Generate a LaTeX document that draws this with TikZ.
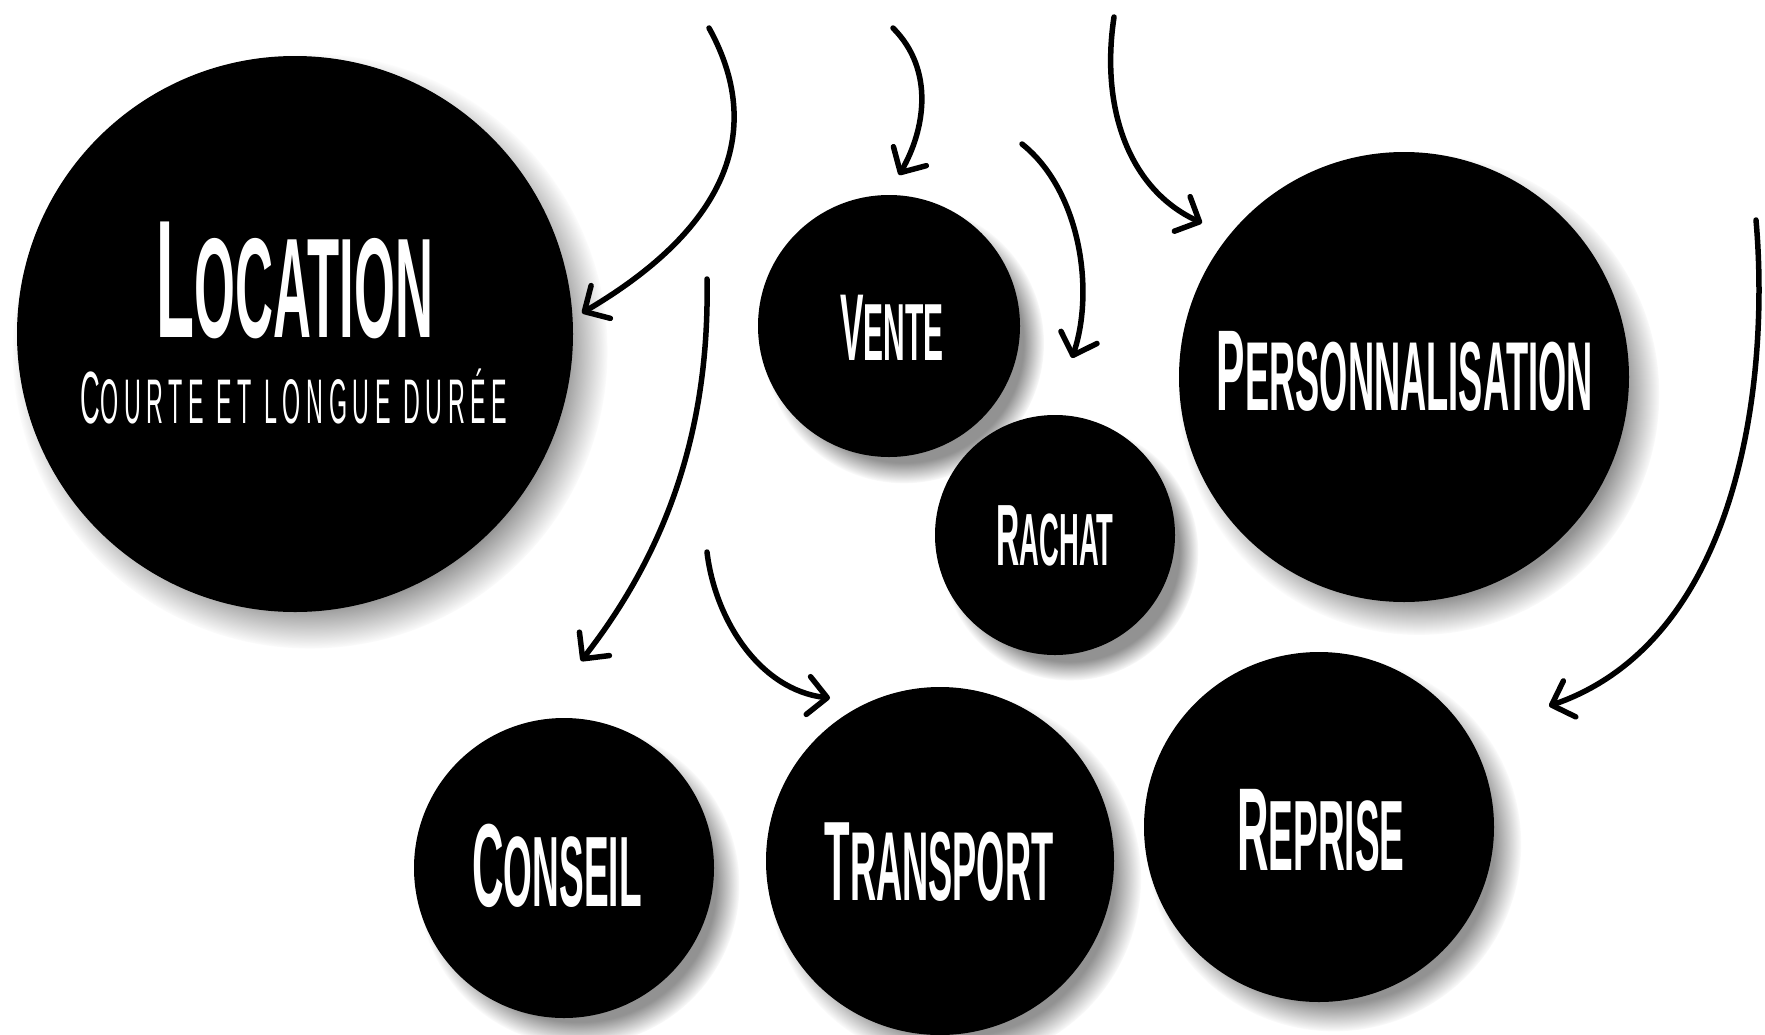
\documentclass[tikz,border=0pt]{standalone}
\usepackage{fontspec}
\usetikzlibrary{shadows,arrows.meta}
\newfontfamily\tfont{Liberation Sans}[FakeStretch=0.37, UprightFont=* Bold]
\newfontfamily\sfontlight{Liberation Sans}[FakeStretch=0.37, LetterSpace=9]
\newcommand\capsc[4]{{\fontsize{#1pt}{#1pt}\selectfont #3}{\fontsize{#2pt}{#2pt}\selectfont #4}}
\begin{document}
\begin{tikzpicture}[x=1pt,y=-1pt,
  ball/.style={circle, fill=black, inner sep=0pt, minimum size=#1,
    circular drop shadow={shadow xshift=14pt, shadow yshift=-16pt, shadow scale=1.07, opacity=.85}},
  lbl/.style={text=white, anchor=base, inner sep=0pt, font=\tfont},
  sublbl/.style={text=white, anchor=base, inner sep=0pt, font=\sfontlight},
  arr/.style={line width=5.5pt, line cap=round, -{Straight Barb[length=19pt,width=38pt,round]}}]
\useasboundingbox (0,0) rectangle (1765,1034);
\clip (0,0) rectangle (1765,1034);
\fill[white] (0,0) rectangle (1765,1034);

% circles
\node[ball=556pt] (location) at (295,334) {};
\node[ball=262pt] (vente) at (889,326) {};
\node[ball=240pt] (rachat) at (1055,535) {};
\node[ball=450pt] (perso) at (1404,377) {};
\node[ball=300pt] (conseil) at (564,868) {};
\node[ball=348pt] (transport) at (940,861) {};
\node[ball=350pt] (reprise) at (1319,827) {};

% labels
\node[lbl] (tloc) at (295,337) {\capsc{168}{142}{L}{OCATION}};
\node[sublbl] (tsub) at (294,423) {\capsc{74}{63}{C}{OURTE ET LONGUE DURÉE}};
\node[lbl] (tvente) at (892,360) {\capsc{95}{81}{V}{ENTE}};
\node[lbl] (trachat) at (1055,565) {\capsc{87}{74}{R}{ACHAT}};
\node[lbl] (tperso) at (1405,410) {\capsc{115}{98}{P}{ERSONNALISATION}};
\node[lbl] (tconseil) at (557,906) {\capsc{118}{100}{C}{ONSEIL}};
\node[lbl] (ttransport) at (939,900) {\capsc{113}{98}{T}{RANSPORT}};
\node[lbl] (treprise) at (1321,870) {\capsc{118}{100}{R}{EPRISE}};

% arrow end points
\coordinate (a1s) at (709,28);   \coordinate (a1e) at (582,313);
\coordinate (a2s) at (893,28);   \coordinate (a2e) at (899,175);
\coordinate (a3s) at (1022,144); \coordinate (a3e) at (1072,358);
\coordinate (a4s) at (1114,17);  \coordinate (a4e) at (1202,223);
\coordinate (a5s) at (707,279);  \coordinate (a5e) at (581,661);
\coordinate (a6s) at (707,552);  \coordinate (a6e) at (830,698);
\coordinate (a7s) at (1756,220); \coordinate (a7e) at (1549,706);

\draw[arr] (a1s) .. controls (760,120) and (740,220) .. (a1e);
\draw[arr] (a2s) .. controls (935,70) and (925,130) .. (a2e);
\draw[arr] (a3s) .. controls (1080,190) and (1095,290) .. (a3e);
\draw[arr] (a4s) .. controls (1100,110) and (1130,190) .. (a4e);
\draw[arr] (a5s) .. controls (710,440) and (660,560) .. (a5e);
\draw[arr] (a6s) .. controls (715,620) and (760,690) .. (a6e);
\draw[arr] (a7s) .. controls (1770,380) and (1740,640) .. (a7e);
\end{tikzpicture}
\end{document}
